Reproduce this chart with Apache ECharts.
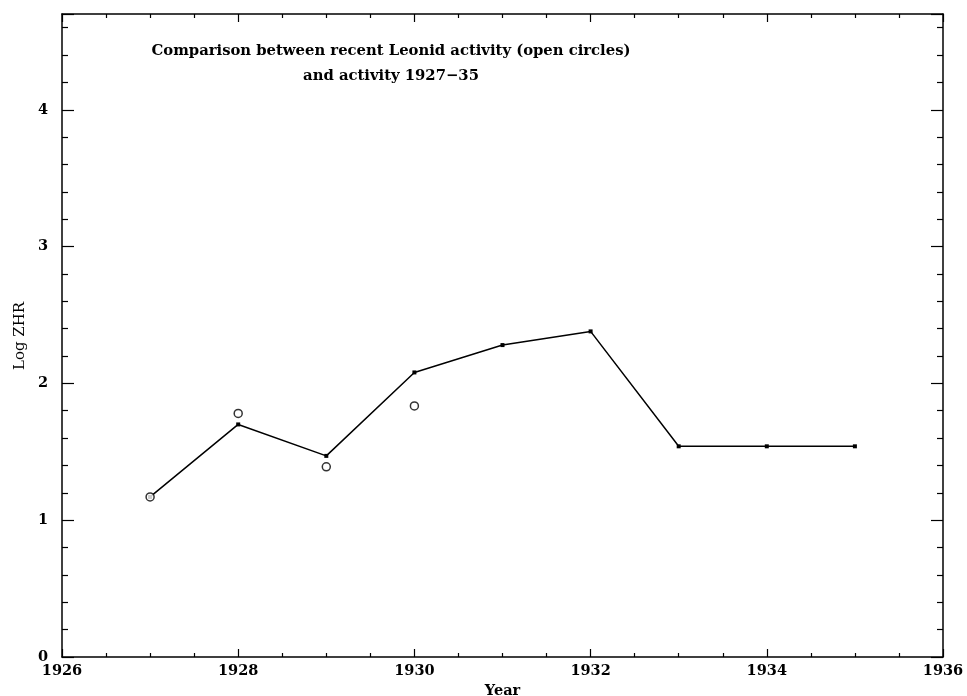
<!DOCTYPE html>
<html>
<head>
<meta charset="utf-8">
<script src="https://cdn.jsdelivr.net/npm/echarts@6/dist/echarts.min.js"></script>
<style>
    html, body { margin: 0; padding: 0; background: #fff; }
    #chart { width: 967px; height: 696px; }
</style>
</head>
<body>
<div id="chart"></div>
<script>
    // 1927-35 activity (line with filled points)
    var years = [1927, 1928, 1929, 1930, 1931, 1932, 1933, 1934, 1935];
    var logZhr = [1.17, 1.70, 1.47, 2.08, 2.28, 2.38, 1.54, 1.54, 1.54];
    // recent Leonid activity (open circles)
    var recentYears = [1927, 1928, 1929, 1930];
    var recentLogZhr = [1.17, 1.78, 1.39, 1.835];

    var titleLines = ['Comparison between recent Leonid activity (open circles)', 'and activity 1927\u221235'];
    var font = 'DejaVu Serif';

    var chart = echarts.init(document.getElementById('chart'));

    function pairs(xs, ys) {
        return xs.map(function (x, i) { return [x, ys[i]]; });
    }

    var xBase = {
        type: 'value', min: 1926, max: 1936, interval: 2,
        splitLine: {show: false},
        axisLine: {show: true, onZero: false, lineStyle: {color: '#000', width: 1.5}},
        axisTick: {show: true, inside: true, length: 8, lineStyle: {color: '#000', width: 1.2}},
        minorTick: {show: true, splitNumber: 4, length: 4, lineStyle: {color: '#000', width: 1.2}},
        minorSplitLine: {show: false}
    };
    var yBase = {
        type: 'value', min: 0, max: 4.7, interval: 1,
        splitLine: {show: false},
        axisLine: {show: true, onZero: false, lineStyle: {color: '#000', width: 1.5}},
        axisTick: {show: true, inside: true, length: 12, lineStyle: {color: '#000', width: 1.2}},
        minorTick: {show: true, splitNumber: 5, length: 6, lineStyle: {color: '#000', width: 1.2}},
        minorSplitLine: {show: false}
    };

    chart.setOption({
        backgroundColor: '#fff',
        animation: false,
        textStyle: {fontFamily: font, color: '#000'},
        grid: {left: 62, right: 24, top: 14, bottom: 39, containLabel: false, outerBoundsMode: 'none'},
        graphic: [
            {
                type: 'text', x: 391, y: 39,
                style: {
                    text: titleLines.join('\n'),
                    font: 'bold 14.8px "DejaVu Serif"', fill: '#000', align: 'center', lineHeight: 25
                }
            },
            {
                type: 'text', x: 20, y: 336, rotation: Math.PI / 2,
                style: {
                    text: 'Log ZHR', font: '15px "DejaVu Serif"', fill: '#000',
                    align: 'center', verticalAlign: 'middle'
                }
            }
        ],
        xAxis: [
            Object.assign({}, xBase, {
                position: 'bottom',
                name: 'Year', nameLocation: 'middle', nameGap: 25,
                nameTextStyle: {fontFamily: font, fontSize: 14.5, fontWeight: 'bold', color: '#000'},
                axisLabel: {
                    show: true, color: '#000', fontFamily: font, fontSize: 14.5, fontWeight: 'bold', margin: 7,
                    formatter: function (v) { return String(v); }
                }
            }),
            Object.assign({}, xBase, {position: 'top', axisLabel: {show: false}})
        ],
        yAxis: [
            Object.assign({}, yBase, {
                position: 'left',
                axisLabel: {
                    show: true, color: '#000', fontFamily: font, fontSize: 14.5, fontWeight: 'bold', margin: 14,
                    showMaxLabel: false
                }
            }),
            Object.assign({}, yBase, {position: 'right', axisLabel: {show: false}})
        ],
        series: [
            {
                name: '1927-35',
                type: 'line',
                data: pairs(years, logZhr),
                symbol: 'rect',
                symbolSize: 4,
                itemStyle: {color: '#000'},
                lineStyle: {color: '#000', width: 1.5},
                z: 3
            },
            {
                name: 'recent',
                type: 'scatter',
                data: pairs(recentYears, recentLogZhr),
                symbol: 'circle',
                symbolSize: 8,
                itemStyle: {color: '#fff', borderColor: '#000', borderWidth: 1.5},
                z: 4
            }
        ]
    });
</script>
</body>
</html>
